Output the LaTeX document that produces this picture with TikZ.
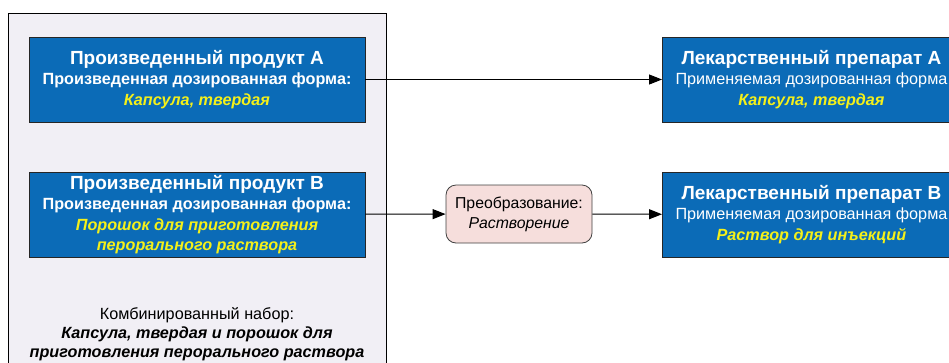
\documentclass[tikz,border=0pt]{standalone}
\usepackage{fontspec}
\setmainfont{Liberation Sans}
\usetikzlibrary{positioning,arrows.meta}

\definecolor{prodblue}{HTML}{0B6BB7}
\definecolor{kitfill}{HTML}{F1EFF5}
\definecolor{convfill}{HTML}{F6DEDC}
\definecolor{formyellow}{HTML}{F4F01A}

\tikzset{
  prodbox/.style={draw=black!85, fill=prodblue, text=white, align=center,
    minimum width=336pt, minimum height=85pt, inner sep=0pt, line width=0.9pt,
    font=\fontsize{16.2}{20.5}\selectfont\bfseries},
  drugbox/.style={prodbox, minimum width=298pt},
  convbox/.style={draw=black!75, fill=convfill, rounded corners=10pt, align=center,
    minimum width=146pt, minimum height=58pt, inner sep=0pt, line width=0.8pt,
    font=\fontsize{15.8}{20}\selectfont},
  flow/.style={-{Triangle[length=13pt,width=10pt]}, line width=1pt},
}
\newcommand{\prodtitle}[1]{{\fontsize{19}{22}\selectfont #1}}
\newcommand{\dosform}[1]{{\color{formyellow}\itshape #1}}

\begin{document}
\begin{tikzpicture}[x=1pt,y=-1pt]
    \useasboundingbox (0,0) rectangle (949,362);
    \clip (0,0) rectangle (949,362);

    % Combined kit frame
    \draw[fill=kitfill, line width=0.9pt] (8,13) rectangle (386,390);

    % Manufactured products
    \node[prodbox] (prodA) at (197,79.5)
        {\prodtitle{Произведенный продукт A}\\
         Произведенная дозированная форма:\\
         \dosform{Капсула, твердая}};
    \node[prodbox] (prodB) at (197,214.5)
        {\prodtitle{Произведенный продукт B}\\
         Произведенная дозированная форма:\\
         \dosform{Порошок для приготовления}\\
         \dosform{перорального раствора}};

    % Kit label
    \node[align=center, font=\fontsize{16.2}{19}\selectfont] (kit) at (197,334)
        {Комбинированный набор:\\
         {\bfseries\itshape Капсула, твердая и порошок для}\\
         {\bfseries\itshape приготовления перорального раствора}};

    % Transformation
    \node[convbox] (conv) at (519,214)
        {Преобразование:\\ \itshape Растворение};

    % Medicinal products
    \node[drugbox, anchor=west] (drugA) at (662,79.5)
        {\prodtitle{Лекарственный препарат A}\\
         {\mdseries Применяемая дозированная форма}\\
         \dosform{Капсула, твердая}};
    \node[drugbox, anchor=west] (drugB) at (662,214.5)
        {\prodtitle{Лекарственный препарат B}\\
         {\mdseries Применяемая дозированная форма}\\
         \dosform{Раствор для инъекций}};

    % Connectors
    \draw[flow] (prodA) -- (drugA);
    \draw[flow] (prodB) -- (conv);
    \draw[flow] (conv) -- (drugB);

\end{tikzpicture}
\end{document}
